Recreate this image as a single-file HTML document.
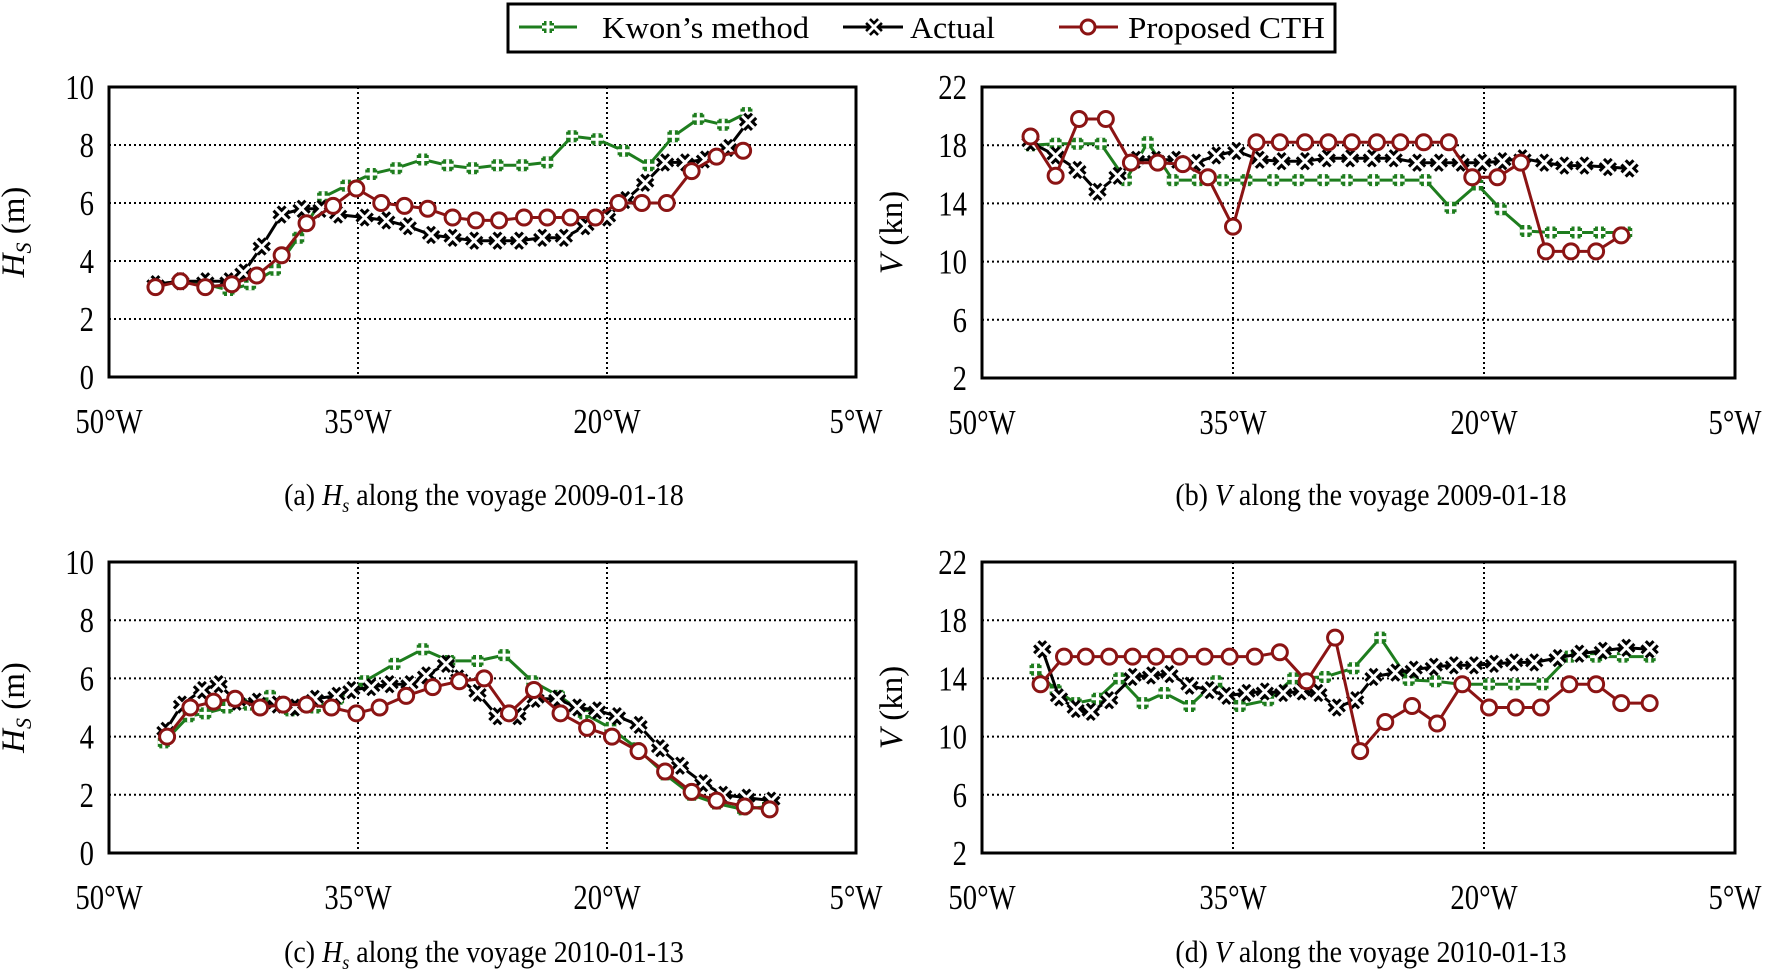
<!DOCTYPE html>
<html><head><meta charset="utf-8"><style>
html,body{margin:0;padding:0;background:#fff;}
svg{display:block;font-family:"Liberation Serif",serif;}
</style></head><body>
<svg id="fig" width="1772" height="975" viewBox="0 0 1772 975">
<g id="legend">
<rect x="508" y="4" width="827" height="48" fill="#fff" stroke="#000" stroke-width="3"/>
<g>
<line x1="519" y1="27" x2="577" y2="27" stroke="#1e7d1e" stroke-width="3"/>
<path d="M542,27h12M548,21v12" stroke="#1e7d1e" stroke-width="8"/><path d="M542,27h12M548,21v12" stroke="#fff" stroke-width="3"/>
<text x="602" y="38" font-size="31" textLength="207" lengthAdjust="spacingAndGlyphs">Kwon’s method</text></g>
<g>
<line x1="843" y1="27" x2="903" y2="27" stroke="#000" stroke-width="3"/>
<path d="M868,21l12,12M880,21l-12,12" stroke="#000" stroke-width="8"/><path d="M868,21l12,12M880,21l-12,12" stroke="#fff" stroke-width="3"/>
<text x="910" y="38" font-size="31" textLength="85" lengthAdjust="spacingAndGlyphs">Actual</text></g>
<g>
<line x1="1059" y1="27" x2="1118" y2="27" stroke="#8b1414" stroke-width="3"/>
<circle cx="1088" cy="27" r="7" fill="#fff" stroke="#8b1414" stroke-width="3"/>
<text x="1128" y="38" font-size="31" textLength="197" lengthAdjust="spacingAndGlyphs">Proposed CTH</text></g>
</g>
</svg>
<script>
// ---- data (longitude in degrees W, values) ----
const xTickLabels = ["50°W","35°W","20°W","5°W"];
const xTicks = [50,35,20,5];
const hsTicks = [0,2,4,6,8,10];
const vTicks = [2,6,10,14,18,22];

const aKwonLon = [47.2,45.7,44.2,42.8,41.5,40.0,38.6,37.1,35.7,34.2,32.7,31.1,29.6,28.1,26.6,25.1,23.6,22.1,20.6,19.0,17.5,16.0,14.5,13.0,11.6];
const aKwonVal = [3.2,3.3,3.2,3.0,3.2,3.7,4.8,6.2,6.6,7.0,7.2,7.5,7.3,7.2,7.3,7.3,7.4,8.3,8.2,7.8,7.3,8.3,8.9,8.7,9.1];
const aActLon = [47.2,45.7,44.2,42.8,41.9,40.8,39.6,38.4,37.2,36.2,34.6,33.3,32.0,30.6,29.3,28.0,26.6,25.3,23.9,22.6,21.3,20.0,18.9,17.7,16.5,15.3,14.1,12.7,11.5];
const aActVal = [3.2,3.3,3.3,3.3,3.6,4.5,5.6,5.8,5.8,5.6,5.5,5.4,5.2,4.9,4.8,4.7,4.7,4.7,4.8,4.8,5.2,5.5,6.1,6.7,7.4,7.4,7.5,7.9,8.8];
const aPropLon = [47.2,45.7,44.2,42.6,41.1,39.6,38.1,36.5,35.1,33.6,32.2,30.8,29.3,27.9,26.5,25.0,23.6,22.2,20.7,19.3,17.9,16.4,14.9,13.4,11.8];
const aPropVal = [3.1,3.3,3.1,3.2,3.5,4.2,5.3,5.9,6.5,6.0,5.9,5.8,5.5,5.4,5.4,5.5,5.5,5.5,5.5,6.0,6.0,6.0,7.1,7.6,7.8];

const bKwonLon = [47.1,45.6,44.3,42.9,41.4,40.1,38.6,37.1,35.6,34.2,32.6,31.1,29.6,28.2,26.6,25.1,23.5,22.0,20.4,19.0,17.5,16.0,14.5,13.1,11.5];
const bKwonVal = [18.0,18.1,18.1,18.1,15.6,18.2,15.6,15.6,15.6,15.6,15.6,15.6,15.6,15.6,15.6,15.6,15.6,13.7,15.3,13.6,12.1,12.0,12.0,12.0,12.0];
const bActLon = [47.1,45.6,44.3,43.1,41.9,40.8,39.6,38.4,37.2,36.0,34.8,33.4,32.1,30.7,29.4,28.0,26.7,25.4,24.0,22.7,21.4,20.1,18.9,17.7,16.4,15.2,14.0,12.6,11.3];
const bActVal = [18.2,17.3,16.3,14.8,15.9,17.0,17.0,17.0,16.8,17.3,17.6,17.0,16.9,16.9,17.1,17.1,17.1,17.1,16.8,16.8,16.8,16.8,16.9,17.1,16.8,16.6,16.6,16.5,16.4];
const bPropLon = [47.1,45.6,44.2,42.6,41.1,39.5,38.0,36.5,35.0,33.6,32.2,30.7,29.3,27.9,26.4,25.0,23.6,22.1,20.7,19.2,17.8,16.3,14.8,13.3,11.8];
const bPropVal = [18.6,15.9,19.8,19.8,16.8,16.8,16.7,15.8,12.4,18.2,18.2,18.2,18.2,18.2,18.2,18.2,18.2,18.2,15.8,15.8,16.8,10.7,10.7,10.7,11.8];

const cKwonLon = [46.7,45.2,44.2,42.9,41.6,40.3,39.1,37.6,36.2,34.6,32.8,31.1,29.5,27.8,26.2,24.5,22.9,21.4,19.8,18.2,16.5,14.9,13.4,11.8,10.3];
const cKwonVal = [3.8,4.7,4.8,5.0,5.1,5.4,4.9,5.0,5.3,5.9,6.5,7.0,6.6,6.6,6.8,5.9,5.4,4.8,4.3,3.6,2.7,2.0,1.7,1.5,1.6];
const cActLon = [46.6,45.6,44.4,43.4,42.3,41.1,39.9,38.8,37.6,36.3,35.4,34.2,33.1,31.9,30.9,29.7,28.9,27.8,26.6,25.4,24.3,23.0,21.8,20.6,19.4,18.1,16.8,15.6,14.2,13.0,11.6,10.1];
const cActVal = [4.2,5.1,5.6,5.8,5.2,5.2,5.1,5.0,5.3,5.4,5.6,5.7,5.8,5.8,6.1,6.5,6.0,5.5,4.7,4.7,5.3,5.3,5.0,4.9,4.7,4.4,3.6,3.0,2.4,2.0,1.9,1.8];
const cPropLon = [46.5,45.1,43.7,42.4,40.9,39.5,38.1,36.6,35.1,33.7,32.1,30.5,28.9,27.4,25.9,24.4,22.8,21.2,19.7,18.1,16.5,14.9,13.4,11.7,10.2];
const cPropVal = [4.0,5.0,5.2,5.3,5.0,5.1,5.1,5.0,4.8,5.0,5.4,5.7,5.9,6.0,4.8,5.6,4.8,4.3,4.0,3.5,2.8,2.1,1.8,1.6,1.5];

const dKwonLon = [46.8,45.6,44.4,43.1,41.8,40.4,39.1,37.6,36.0,34.6,32.9,31.4,29.5,27.8,26.2,24.5,22.9,21.4,19.7,18.2,16.5,14.9,13.3,11.7,10.1];
const dKwonVal = [14.6,13.2,12.3,12.6,14.0,12.3,13.0,12.1,13.8,12.1,12.5,14.0,14.1,14.7,16.8,13.9,13.8,13.6,13.6,13.6,13.6,15.5,15.5,15.5,15.5];
const dActLon = [46.4,45.4,44.4,43.5,42.4,41.0,39.9,38.8,37.6,36.4,35.4,34.2,33.1,32.0,30.9,29.9,28.8,27.7,26.6,25.3,24.2,23.0,21.8,20.6,19.4,18.2,17.0,15.6,14.3,12.9,11.5,10.1];
const dActVal = [16.0,12.7,11.9,11.7,12.5,14.1,14.2,14.3,13.5,13.2,12.8,13.0,13.1,13.0,13.1,13.0,12.0,12.5,14.1,14.4,14.6,14.8,14.9,14.9,15.0,15.1,15.1,15.4,15.7,15.9,16.1,16.0];
const dPropLon = [46.5,45.1,43.8,42.4,41.0,39.6,38.2,36.7,35.2,33.7,32.2,30.6,28.9,27.4,25.9,24.3,22.8,21.3,19.7,18.1,16.6,14.9,13.3,11.8,10.1];
const dPropVal = [13.6,15.5,15.5,15.5,15.5,15.5,15.5,15.5,15.5,15.5,15.8,13.8,16.8,9.0,11.0,12.1,10.9,13.6,12.0,12.0,12.0,13.6,13.6,12.3,12.3];

const GREEN="#1e7d1e", BLACK="#000", RED="#8b1414";
const NS="http://www.w3.org/2000/svg";
const svg=document.getElementById('fig');
function mk(tag,attrs,parent){const e=document.createElementNS(NS,tag);for(const k in attrs)e.setAttribute(k,attrs[k]);(parent||svg).appendChild(e);return e;}

function panel(id,L,T,R,B,ymin,ymax,yTicks,ylab,ylabSub,ylabX,caption,captionX,captionY,series){
  const g=mk('g',{});
  
  
  const sx=lon=>L+(50-lon)/45*(R-L);
  const sy=v=>B-(v-ymin)/(ymax-ymin)*(B-T);
  yTicks.forEach((t,i)=>{ if(i===0||i===yTicks.length-1) return;
    const ln=mk('line',{x1:L,x2:R,y1:sy(t),y2:sy(t),stroke:'#000','stroke-width':2,'stroke-dasharray':'2,3'},g);
    
    
  });
  xTicks.forEach((t,i)=>{ if(i===0||i===xTicks.length-1) return;
    const ln=mk('line',{x1:sx(t),x2:sx(t),y1:T,y2:B,stroke:'#000','stroke-width':2,'stroke-dasharray':'2,3'},g);
    
    
  });
  const fr=mk('rect',{x:L,y:T,width:R-L,height:B-T,fill:'none',stroke:'#000','stroke-width':3},g);
  
  
  yTicks.forEach(t=>{
    const tx=mk('text',{x:0,y:0,'font-size':35,'text-anchor':'end',transform:`translate(${L-15},${sy(t)+12}) scale(0.82,1)`},g);
    tx.textContent=String(t);
    
    
  });
  xTicks.forEach((t,i)=>{
    const tx=mk('text',{x:0,y:0,'font-size':35,'text-anchor':'middle',transform:`translate(${sx(t)},${B+56}) scale(0.82,1)`},g);
    tx.textContent=xTickLabels[i];
    
    
  });
  const yc=(T+B)/2;
  const yt=mk('text',{x:0,y:0,'font-size':33,'text-anchor':'middle',transform:`translate(${ylabX},${yc}) rotate(-90)`},g);
  
  
  const ts1=mk('tspan',{'font-style':'italic'},yt); ts1.textContent=ylab;
  if(ylabSub){const ts2=mk('tspan',{'font-style':'italic','font-size':22,dy:7},yt); ts2.textContent=ylabSub;
    const ts3=mk('tspan',{dy:-7},yt); ts3.textContent=' (m)';}
  else {const ts3=mk('tspan',{},yt); ts3.textContent=' (kn)';}
  const cap=mk('text',{x:0,y:0,'font-size':31,'text-anchor':'middle',transform:`translate(${captionX},${captionY}) scale(0.9,1)`},g);
  
  
  cap.innerHTML=caption;
  series.forEach(s=>{
    const sg=mk('g',{},g);
    
    
    const pts=s.lon.map((x,i)=>sx(x).toFixed(1)+','+sy(s.val[i]).toFixed(1)).join(' ');
    const pl=mk('polyline',{points:pts,fill:'none',stroke:s.c,'stroke-width':3,'stroke-linejoin':'round'},sg);
    
    
    s.lon.forEach((x,i)=>{
      const cx=sx(x), cy=sy(s.val[i]);
      let m;
      if(s.m==='o'){ m=mk('circle',{cx:cx,cy:cy,r:7.5,fill:'#fff',stroke:s.c,'stroke-width':3},sg); }
      else {
        m=mk('g',{},sg);
        const d = s.m==='+' ? `M${cx-6},${cy}h12M${cx},${cy-6}v12` : `M${cx-6},${cy-6}l12,12M${cx+6},${cy-6}l-12,12`;
        mk('path',{d:d,stroke:s.c,'stroke-width':9},m);
        mk('path',{d:d,stroke:'#fff','stroke-width':3},m);
      }
      
      
    });
  });
}
const S=(lon,val,c,m,name)=>({lon,val,c,m,name});
panel('a',109,87,856,377,0,10,hsTicks,'H','S',24,'(a) <tspan font-style="italic">H</tspan><tspan font-style="italic" font-size="20" dy="7">s</tspan><tspan dy="-7"> along the voyage 2009-01-18</tspan>',484,505,
  [S(aKwonLon,aKwonVal,GREEN,'+','kwon'),S(aActLon,aActVal,BLACK,'x','actual'),S(aPropLon,aPropVal,RED,'o','proposed-cth')]);
panel('b',982,87,1735,378,2,22,vTicks,'V','',902,'(b) <tspan font-style="italic">V</tspan> along the voyage 2009-01-18',1371,505,
  [S(bKwonLon,bKwonVal,GREEN,'+','kwon'),S(bActLon,bActVal,BLACK,'x','actual'),S(bPropLon,bPropVal,RED,'o','proposed-cth')]);
panel('c',109,562,856,853,0,10,hsTicks,'H','S',24,'(c) <tspan font-style="italic">H</tspan><tspan font-style="italic" font-size="20" dy="7">s</tspan><tspan dy="-7"> along the voyage 2010-01-13</tspan>',484,962,
  [S(cKwonLon,cKwonVal,GREEN,'+','kwon'),S(cActLon,cActVal,BLACK,'x','actual'),S(cPropLon,cPropVal,RED,'o','proposed-cth')]);
panel('d',982,562,1735,853,2,22,vTicks,'V','',902,'(d) <tspan font-style="italic">V</tspan> along the voyage 2010-01-13',1371,962,
  [S(dKwonLon,dKwonVal,GREEN,'+','kwon'),S(dActLon,dActVal,BLACK,'x','actual'),S(dPropLon,dPropVal,RED,'o','proposed-cth')]);
</script>
</body></html>
